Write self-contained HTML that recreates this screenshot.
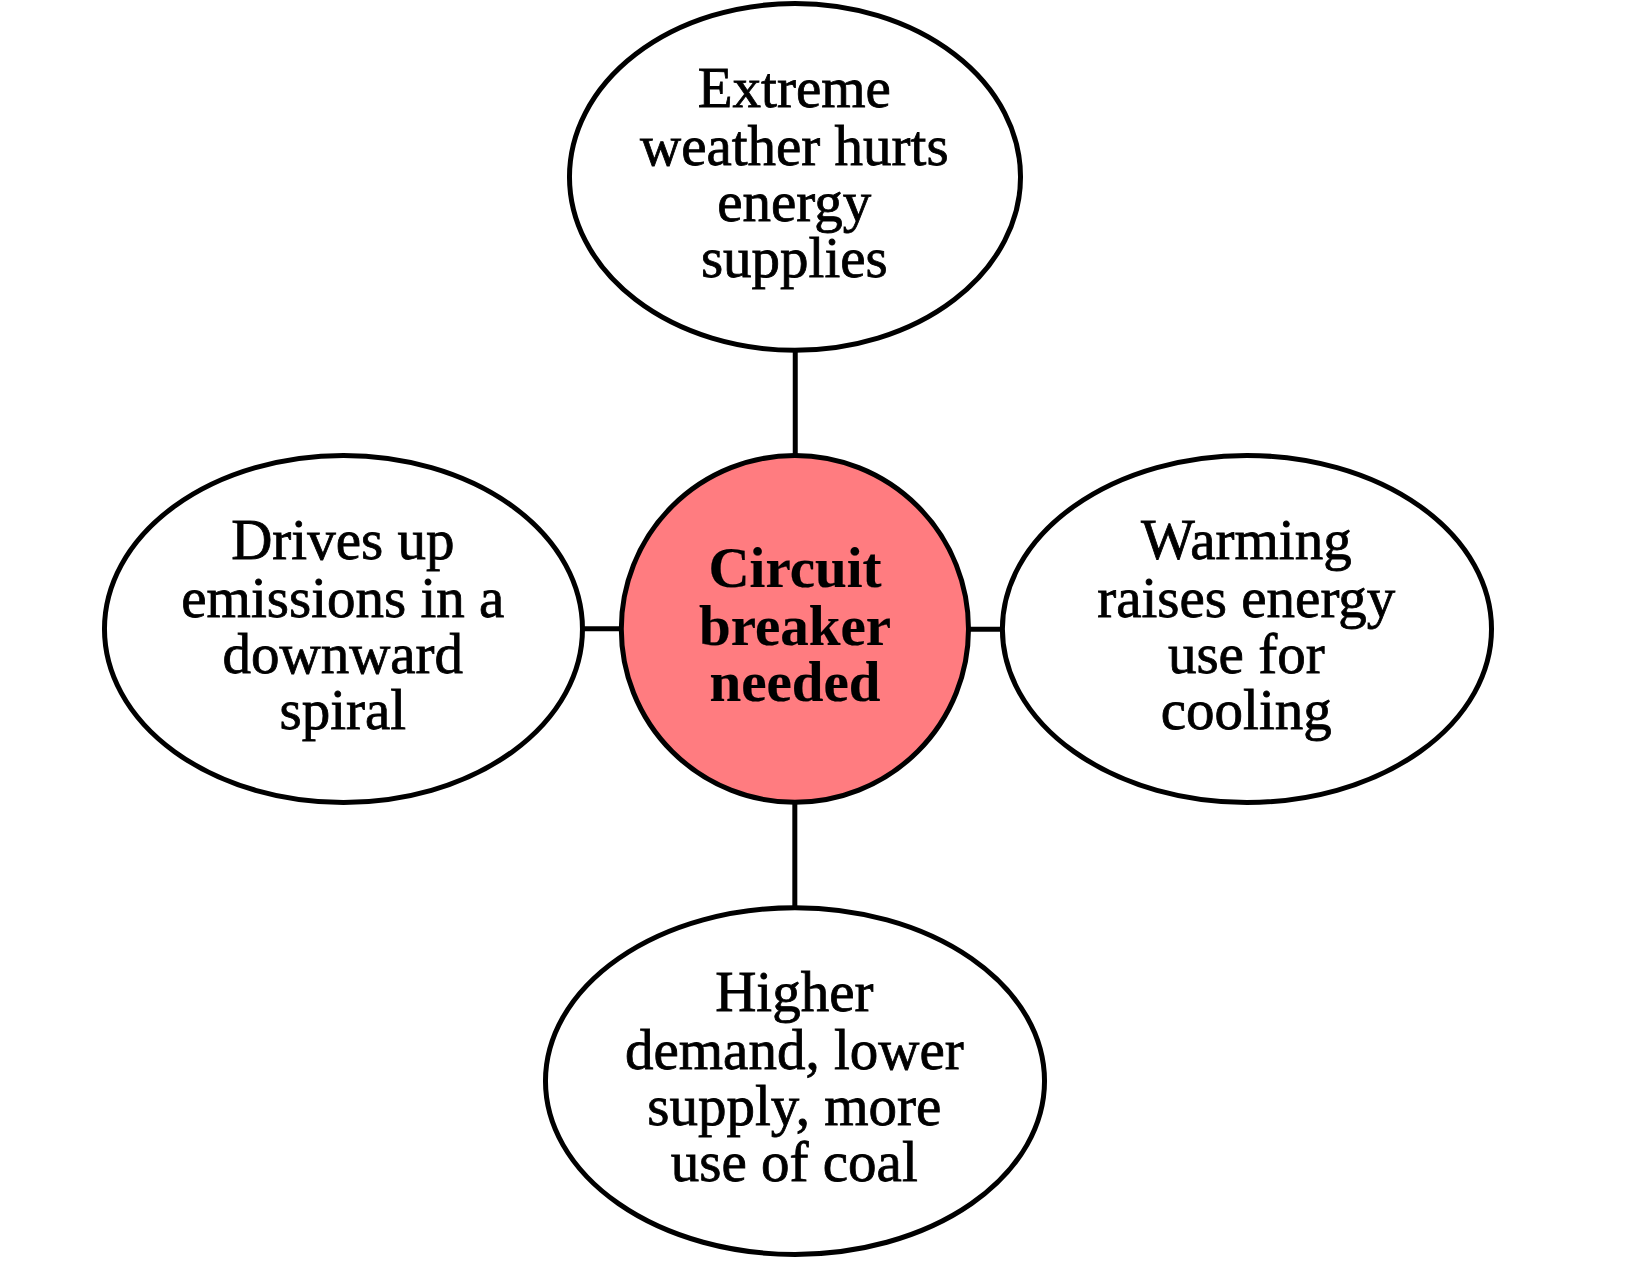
<!DOCTYPE html>
<html><head><meta charset="utf-8">
<style>
html,body{margin:0;padding:0;background:#fff;}
svg{display:block;}
text{font-family:"Liberation Serif",serif;font-size:57px;fill:#000;stroke:#000;stroke-width:0.8px;text-anchor:middle;}
.b{font-weight:bold;stroke-width:0.2px;}
</style></head><body>
<svg width="1636" height="1272" viewBox="0 0 1636 1272">
<rect x="0" y="0" width="1636" height="1272" fill="#fff"/>
<g stroke="#000" stroke-width="5" fill="none">
<line x1="795.25" y1="350" x2="795.25" y2="456"/>
<line x1="794.82" y1="802" x2="794.82" y2="908"/>
<line x1="582" y1="628.8" x2="622" y2="628.8"/>
<line x1="968" y1="629.37" x2="1003" y2="629.37"/>
<ellipse cx="795" cy="176.91" rx="225.52" ry="173.37" fill="#fff"/>
<ellipse cx="343.48" cy="628.98" rx="239" ry="173.5" fill="#fff"/>
<ellipse cx="1246.95" cy="628.98" rx="244.56" ry="173.5" fill="#fff"/>
<ellipse cx="795" cy="1081.04" rx="249.52" ry="173.39" fill="#fff"/>
<ellipse cx="794.9" cy="628.9" rx="173.6" ry="173.4" fill="#FF7C80"/>
</g>
<g transform="translate(-0.7,0)">
<text x="795" y="107">Extreme</text>
<text x="795" y="165">weather hurts</text>
<text x="795" y="221">energy</text>
<text x="795" y="277">supplies</text>
<text x="343.5" y="559">Drives up</text>
<text x="343.5" y="617">emissions in a</text>
<text x="343.5" y="673">downward</text>
<text x="343.5" y="729">spiral</text>
<text x="1247" y="559">Warming</text>
<text x="1247" y="617">raises energy</text>
<text x="1247" y="673">use for</text>
<text x="1247" y="729">cooling</text>
<text x="795" y="1011">Higher</text>
<text x="795" y="1069">demand, lower</text>
<text x="795" y="1125">supply, more</text>
<text x="795" y="1181">use of coal</text>
</g>
<text class="b" x="795" y="587">Circuit</text>
<text class="b" x="795" y="645">breaker</text>
<text class="b" x="795" y="701">needed</text>
</svg>
</body></html>
